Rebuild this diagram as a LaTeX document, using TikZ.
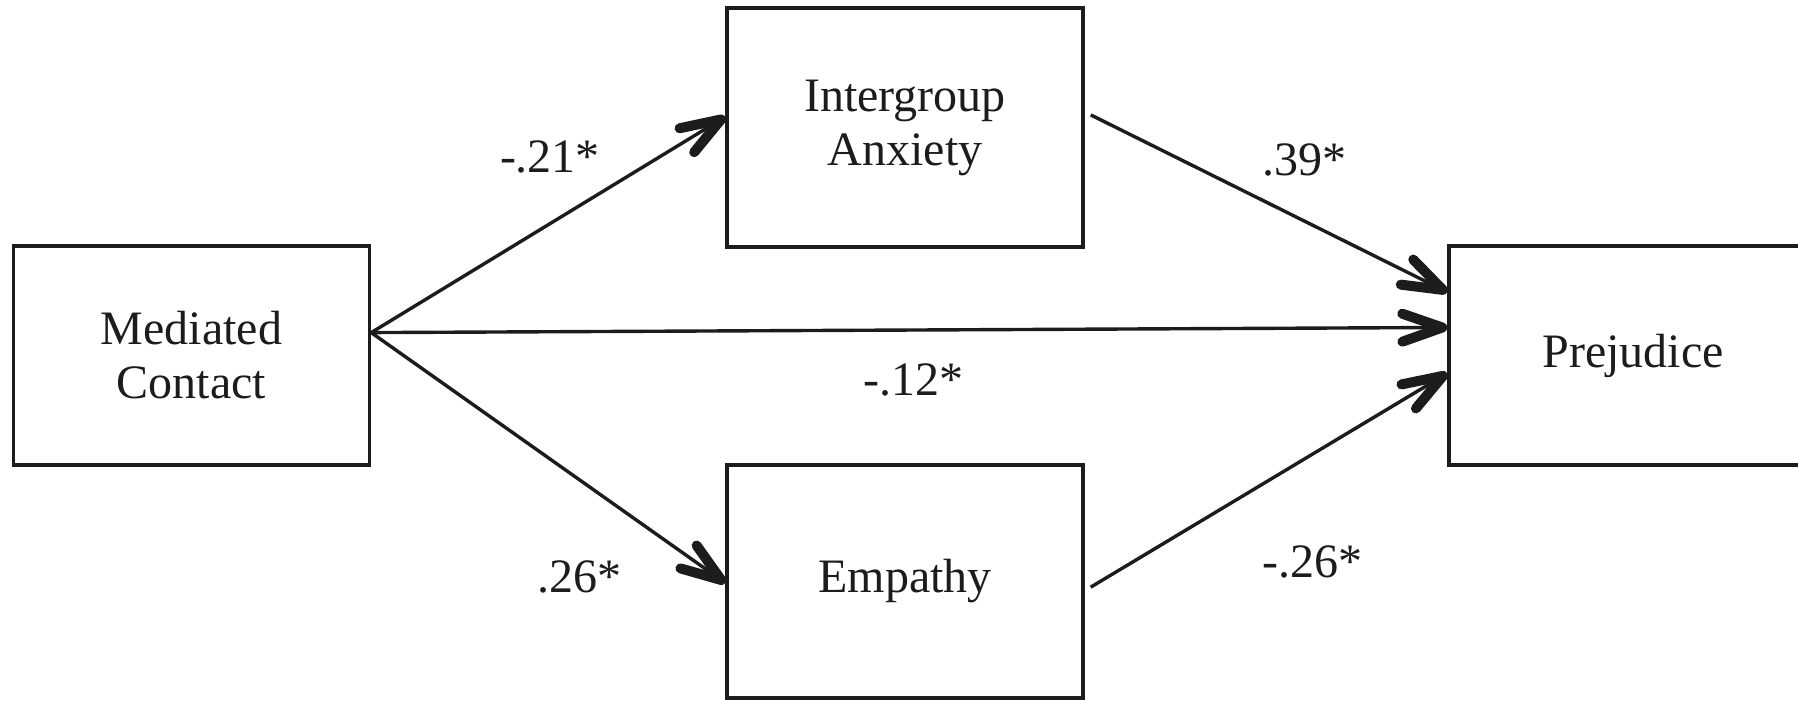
\documentclass[tikz,border=0pt]{standalone}
\usepackage{fontspec}
\setmainfont{Liberation Serif}
\usetikzlibrary{arrows.meta,calc}
\definecolor{ink}{RGB}{28,28,28}
\tikzset{
  box/.style={draw=ink, line width=1.7pt, minimum width=178pt, inner sep=0pt,
    align=center, font=\fontsize{24pt}{27pt}\selectfont, text=ink},
  path/.style={draw=ink, line width=1.7pt,
    -{Straight Barb[length=20pt,width=14pt,line width=5pt,round]}},
  coef/.style={anchor=base, font=\fontsize{24pt}{27pt}\selectfont, text=ink, inner sep=0pt}
}
\begin{document}
\begin{tikzpicture}[x=0.5pt,y=-0.5pt]
\useasboundingbox (0,0) rectangle (1798,701);
\begin{scope}
\clip (0,0) rectangle (1798,701);
\node[box, minimum height=109.5pt] (mc) at (191.5,355.5) {Mediated\\Contact};
\node[box, minimum height=119.5pt] (ia) at (905,127.5) {Intergroup\\Anxiety};
\node[box, minimum height=116.5pt] (em) at (905,581.5) {Empathy};
\node[box, minimum height=109.5pt, minimum width=184pt] (pr) at (1633,355.5) {Prejudice};
\end{scope}

\coordinate (src) at ($(mc.north east)!0.397!(mc.south east)$);
\coordinate (iaL) at ($(ia.north west)!0.456!(ia.south west)$);
\coordinate (iaR) at ($(ia.north east)!0.448!(ia.south east)+(6,0)$);
\coordinate (emL) at ($(em.north west)!0.506!(em.south west)$);
\coordinate (emR) at ($(em.north east)!0.524!(em.south east)+(6,0)$);
\coordinate (prA) at ($(pr.north west)!0.215!(pr.south west)$);
\coordinate (prB) at ($(pr.north west)!0.374!(pr.south west)$);
\coordinate (prC) at ($(pr.north west)!0.58!(pr.south west)$);

\draw[path] (src) -- (iaL);
\draw[path] (src) -- (emL);
\draw[path] (src) -- (prB);
\draw[path] (iaR) -- (prA);
\draw[path] (emR) -- (prC);

\node[coef] (c1) at (550,172) {-.21*};
\node[coef] (c2) at (1304,175) {.39*};
\node[coef] (c3) at (913,395) {-.12*};
\node[coef] (c4) at (579,592) {.26*};
\node[coef] (c5) at (1312,577) {-.26*};
\end{tikzpicture}
\end{document}
